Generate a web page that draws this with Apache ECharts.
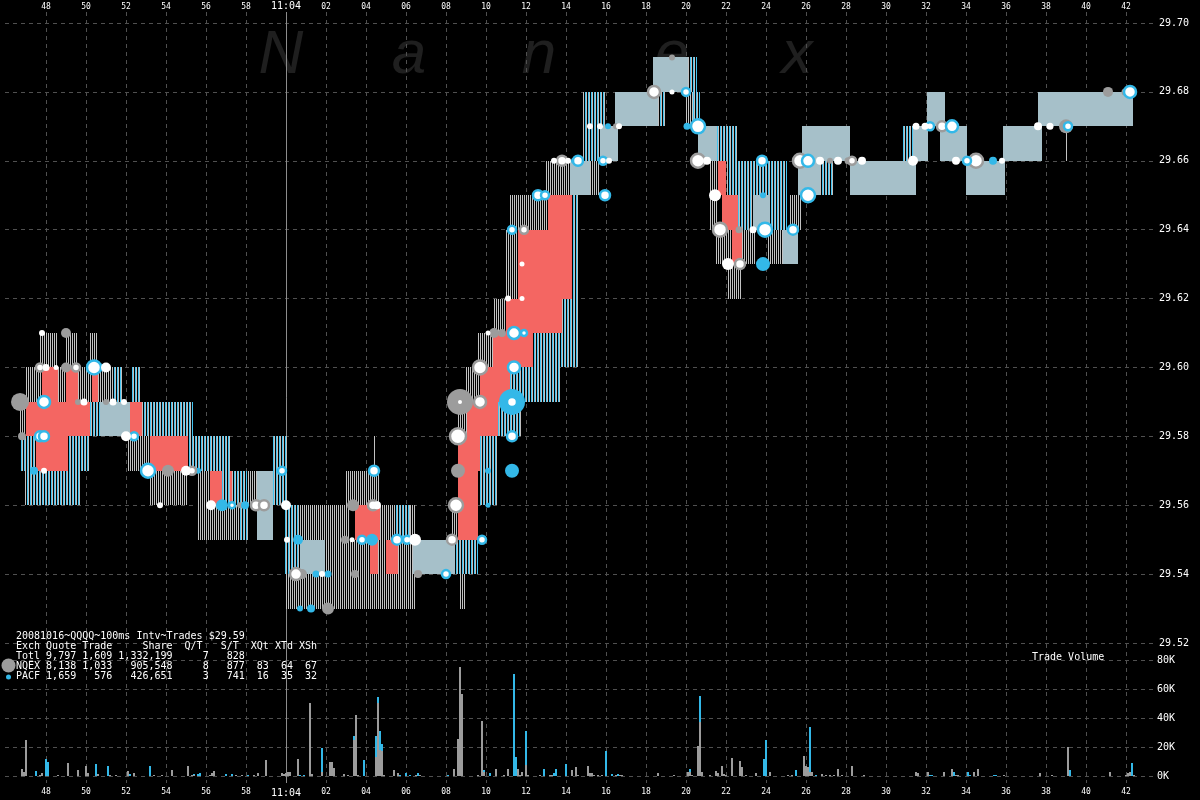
<!DOCTYPE html>
<html><head><meta charset="utf-8">
<script src="https://cdn.jsdelivr.net/npm/echarts@6/dist/echarts.min.js"></script>
<style>html,body{margin:0;padding:0;background:#000}#c{width:1200px;height:800px}</style>
</head><body><div id="c"></div>
<script>
// ---------- DATA ----------
// time in seconds after 11:03:00 ; quote bands: [tStart, tEnd, low, high]
const grayBands = [
  [46.75,47.05,29.57,29.59],[47.05,47.85,29.59,29.60],[47.75,48.6,29.60,29.61],[48.6,50.35,29.59,29.60],
  [49.05,49.6,29.60,29.61],[50.25,50.6,29.60,29.61],[50.65,51.35,29.59,29.60],[52.1,53.25,29.57,29.58],
  [53.25,55.1,29.56,29.57],[55.6,56.25,29.55,29.57],[56.25,57.75,29.55,29.56],[58.1,58.6,29.56,29.57],
  [60.0,60.75,29.53,29.56],[60.75,63.0,29.55,29.56],[60.75,62.25,29.53,29.55],[62.25,63.25,29.53,29.56],
  [63.0,64.75,29.56,29.57],[63.25,65.0,29.53,29.55],[64.4,64.55,29.57,29.58],[64.75,66.5,29.53,29.55],
  [64.75,65.5,29.55,29.56],[65.75,66.5,29.55,29.56],[68.35,68.65,29.55,29.56],[68.75,69.0,29.53,29.54],
  [68.65,69.1,29.58,29.59],[69.05,69.75,29.59,29.60],[69.65,70.4,29.60,29.61],[70.45,71.05,29.61,29.62],
  [71.0,71.65,29.62,29.64],[71.25,73.15,29.64,29.65],[73.0,75.75,29.65,29.66],[80.0,80.4,29.67,29.68],
  [81.25,81.65,29.64,29.66],[81.5,82.35,29.63,29.64],[82.15,82.85,29.62,29.63],[82.85,83.5,29.63,29.64],
  [84.15,84.9,29.63,29.64],[85.25,85.85,29.64,29.65],[99.05,99.15,29.66,29.67]
];
const cyanBands = [
  [46.75,50.25,29.57,29.58],[47.0,49.75,29.56,29.57],[50.25,50.75,29.58,29.59],[51.35,51.85,29.59,29.60],
  [52.35,52.75,29.59,29.60],[52.85,55.4,29.58,29.59],[55.15,57.25,29.57,29.58],[56.85,58.1,29.56,29.57],
  [57.75,58.15,29.55,29.56],[59.4,60.1,29.56,29.58],[60.0,60.75,29.54,29.56],[65.5,66.25,29.55,29.56],
  [68.5,69.65,29.54,29.55],[69.75,70.6,29.56,29.58],[70.65,71.85,29.58,29.59],[71.25,73.75,29.59,29.60],
  [72.4,74.35,29.60,29.62],[74.35,74.65,29.60,29.65],[74.9,76.0,29.66,29.68],[78.65,79.0,29.67,29.68],
  [80.15,80.6,29.68,29.69],[80.4,80.75,29.67,29.68],[81.6,82.6,29.66,29.67],[82.1,85.1,29.64,29.66],
  [86.75,87.4,29.65,29.66],[90.85,91.4,29.66,29.67]
];
const lightBands = [
  [50.75,52.25,29.58,29.59],[58.6,59.4,29.55,29.57],[60.75,62.0,29.54,29.55],[66.4,68.5,29.54,29.55],
  [74.25,75.25,29.65,29.66],[75.75,76.65,29.66,29.67],[76.5,78.65,29.67,29.68],[78.4,80.15,29.68,29.69],
  [80.65,81.6,29.66,29.67],[83.4,84.25,29.64,29.65],[84.9,85.65,29.63,29.64],[85.65,86.75,29.65,29.66],
  [85.85,88.25,29.66,29.67],[88.25,91.55,29.65,29.66],[91.4,92.15,29.66,29.67],[92.1,93.0,29.67,29.68],
  [92.75,94.1,29.66,29.67],[94.05,96.0,29.65,29.66],[95.9,97.85,29.66,29.67],[97.65,102.4,29.67,29.68]
];
const redBands = [
  [47.05,50.25,29.58,29.59],[47.85,48.65,29.59,29.60],[49.05,49.65,29.59,29.60],[50.35,50.65,29.59,29.60],
  [47.55,49.15,29.57,29.58],[52.25,52.85,29.58,29.59],[53.25,55.15,29.57,29.58],[56.25,56.85,29.56,29.57],
  [57.25,57.35,29.56,29.57],[63.5,64.75,29.55,29.56],[64.25,64.65,29.54,29.55],[65.05,65.65,29.54,29.55],
  [68.65,69.65,29.55,29.57],[68.65,69.75,29.57,29.58],[69.1,70.65,29.58,29.59],[69.75,71.25,29.59,29.60],
  [70.4,72.4,29.60,29.61],[71.05,73.85,29.61,29.62],[71.65,74.35,29.62,29.64],[73.15,74.35,29.64,29.65],
  [81.65,82.05,29.65,29.66],[81.85,82.65,29.64,29.65],[82.35,82.85,29.63,29.64]
];
// trades: [t, price, markerSize]
const tradesGray = [
  [46.75,29.59,18],[49.05,29.61,10],[49.05,29.60,10],[49.65,29.59,6],[51.05,29.59,6],[46.85,29.58,8],
  [54.15,29.57,12],[57.75,29.56,6],[60.85,29.54,10],[62.15,29.53,12],[63.4,29.56,12],[63.0,29.55,8],
  [63.5,29.54,8],[66.65,29.54,8],[68.65,29.57,14],[68.75,29.59,26],[70.45,29.61,10],[70.85,29.61,8],
  [79.35,29.69,6],[82.7,29.64,7],[87.25,29.66,6],[88.15,29.66,7],[99.05,29.67,14],[101.15,29.68,10],
  [102.0,29.68,7],[76.55,29.67,6]
];
const tradesCyan = [
  [50.75,29.60,8],[47.45,29.57,8],[55.65,29.57,6],[56.85,29.56,12],[58.0,29.56,8],[60.65,29.55,10],
  [61.55,29.54,7],[60.75,29.53,6],[61.3,29.53,8],[64.35,29.55,12],[70.15,29.57,6],[71.35,29.57,14],
  [70.15,29.56,5],[71.35,29.59,26],[74.45,29.66,6],[76.15,29.67,6],[80.1,29.67,7],[83.9,29.65,6],
  [83.9,29.63,14],[95.4,29.66,8],[62.15,29.54,7]
];
const tradesWhiteGray = [
  [47.75,29.60,8],[49.55,29.60,8],[58.55,29.56,10],[58.95,29.56,10],[60.55,29.54,12],[64.4,29.56,10],
  [68.35,29.55,10],[68.55,29.56,14],[68.65,29.58,16],[69.75,29.59,12],[69.75,29.60,14],[71.95,29.64,8],
  [73.85,29.66,10],[78.45,29.68,12],[80.65,29.66,14],[81.75,29.64,14],[82.75,29.63,10],[85.75,29.66,14],
  [88.35,29.66,8],[92.85,29.67,10],[94.55,29.66,14],[55.35,29.57,8]
];
const tradesWhiteCyan = [
  [50.45,29.60,14],[47.95,29.59,12],[47.75,29.58,10],[47.95,29.58,10],[52.45,29.58,8],[53.15,29.57,14],
  [59.85,29.57,8],[57.35,29.56,6],[63.85,29.55,8],[65.6,29.55,10],[66.1,29.55,8],[68.05,29.54,8],
  [69.85,29.55,8],[71.35,29.58,10],[71.45,29.60,12],[71.45,29.61,12],[71.95,29.61,6],[71.35,29.64,8],
  [72.65,29.65,10],[73.0,29.65,8],[74.65,29.66,10],[76.0,29.65,10],[75.9,29.66,8],[80.05,29.68,8],
  [80.65,29.67,14],[83.85,29.66,10],[84.0,29.64,14],[85.4,29.64,10],[86.15,29.66,12],[86.15,29.65,14],
  [94.1,29.66,8],[92.25,29.67,8],[93.35,29.67,12],[99.15,29.67,8],[102.25,29.68,12],[64.45,29.57,10],
  [71.35,29.59,10]
];
const tradesWhite = [
  [47.85,29.61,6],[48.05,29.60,7],[48.55,29.60,5],[51.05,29.60,10],[49.95,29.59,7],[51.4,29.59,7],
  [51.95,29.59,6],[52.05,29.58,10],[47.95,29.57,6],[55.05,29.57,10],[53.75,29.56,6],[56.3,29.56,10],
  [60.05,29.56,10],[60.1,29.55,6],[61.85,29.54,6],[64.6,29.56,8],[63.35,29.55,5],[66.5,29.55,12],
  [70.15,29.61,5],[71.15,29.62,6],[71.85,29.62,5],[71.85,29.63,5],[73.45,29.66,6],[74.15,29.66,6],
  [75.25,29.67,6],[75.75,29.67,6],[76.7,29.67,6],[76.2,29.66,6],[79.35,29.68,5],[81.1,29.66,8],
  [81.5,29.65,12],[82.15,29.63,12],[83.4,29.64,7],[86.75,29.66,8],[87.65,29.66,8],[88.85,29.66,8],
  [91.4,29.66,10],[93.55,29.66,8],[95.85,29.66,6],[91.55,29.67,7],[92.0,29.67,7],[97.65,29.67,8],
  [98.25,29.67,7],[68.75,29.59,4]
];
// trade volume per 100ms bin: [t, shares]
const volGray = [
  [46.8,4700],[46.9,3000],[47.0,25000],[47.7,700],[47.8,2000],[48.6,500],[49.1,8800],[49.6,4200],
  [50.0,6700],[50.1,2000],[50.6,1500],[51.2,700],[51.5,700],[52.1,3400],[52.4,2000],[53.4,700],
  [53.8,700],[54.3,4200],[55.1,6700],[55.3,700],[55.4,700],[56.2,700],[56.3,2000],[56.4,3400],
  [57.5,700],[57.8,700],[58.4,700],[58.6,2000],[59.0,10800],[59.8,2000],[59.9,1400],[60.0,2000],
  [60.1,2700],[60.2,2700],[60.6,12000],[61.2,50600],[61.3,1500],[61.8,2700],[62.2,9400],[62.3,9400],
  [62.4,5400],[62.9,1400],[63.1,700],[63.4,24500],[63.5,41800],[63.6,700],[64.5,12800],[64.6,50600],
  [64.7,18000],[64.8,17000],[64.9,700],[65.4,4000],[65.6,2000],
  [66.5,1000],[66.7,1000],[68.4,5000],[68.6,25600],[68.7,75500],[68.8,56600],[69.6,500],[69.8,37800],
  [69.9,3000],[70.5,4500],[70.9,1000],[71.1,4500],[71.6,5000],[71.7,1000],[71.8,3000],[72.0,7600],
  [72.1,500],[72.7,1000],[73.2,500],[73.3,500],[74.3,4000],[74.5,6500],[74.6,500],[75.1,7000],
  [75.2,2000],[75.3,2000],[75.4,700],[75.6,500],[75.8,500],[76.5,700],[76.7,700],[76.8,700],
  [78.6,2000],[79.4,500],[80.1,3000],[80.2,2500],[80.3,500],[80.6,20900],[80.7,37300],[80.8,3000],
  [81.2,1000],[81.5,3400],[81.6,2000],[81.8,7000],[81.9,1500],[82.0,500],[82.3,12600],[82.7,10500],
  [82.8,6000],[83.0,500],[83.5,2200],[84.2,3000],[85.1,500],[85.3,500],
  [85.9,13500],[86.0,7000],[86.1,6000],[86.2,3000],[86.3,3000],[86.8,1500],[87.0,1000],[87.2,500],
  [87.4,500],[87.6,5000],[87.8,1000],[88.3,7000],[88.9,1000],[91.5,2500],[91.6,2000],[92.1,3000],
  [92.9,3000],[93.3,5000],[93.5,700],[93.6,700],[94.4,2500],[94.6,5000],[95.9,500],[97.7,2000],
  [98.3,500],[99.1,20200],[101.2,2500],[102.0,1000],[102.1,2000],[102.2,2700],[102.4,500]
];
const volCyan = [
  [47.5,3400],[48.0,12000],[48.1,10000],[50.5,8000],[51.1,6700],[52.2,1400],[53.2,6700],[55.4,600],
  [55.6,1500],[55.7,2000],[57.0,1400],[57.3,1400],[58.1,700],[60.7,700],[60.9,700],[61.8,16300],
  [63.4,3000],[63.9,10800],[64.5,14800],[64.6,4000],[64.7,13000],[64.8,5000],[65.7,1000],
  [66.0,2200],[66.2,500],[66.6,2200],[68.1,1000],[69.9,1000],[70.2,2000],[71.4,70100],[71.5,13000],
  [72.0,23400],[72.9,5000],[73.4,2200],[73.5,5000],[74.0,8000],[76.0,17500],[76.3,1500],[76.6,1500],
  [80.2,2200],[80.7,18000],[83.9,11500],[84.0,25000],[85.5,4000],
  [86.2,30700],[86.5,500],[92.2,1000],[92.3,1000],[93.4,3000],[94.1,2500],[94.2,1000],[95.4,500],
  [95.5,500],[99.2,4000],[102.3,8800]
];
const minuteMarks = [60];
const headerLines = [
  '20081016~QQQQ~100ms Intv~Trades $29.59',
  'Exch Quote Trade     Share  Q/T   S/T  XQt XTd XSh',
  'Totl 9,797 1,609 1,332,199     7   828',
  'NQEX 8,138 1,033   905,548     8   877  83  64  67',
  'PACF 1,659   576   426,651     3   741  16  35  32'
];
const watermark = ['N','a','n','e','x'];

// ---------- RENDER ----------
const FONT = '"DejaVu Sans Mono", monospace';
const GRAY = '#9c9c9c', CYAN = '#33b8e8', RED = '#f46662';
function stripe(cols){
  const c = document.createElement('canvas'); c.width = cols.length; c.height = 1;
  const g = c.getContext('2d'); cols.forEach((col,i)=>{g.fillStyle=col; g.fillRect(i,0,1,1);});
  return {image:c, repeat:'repeat'};
}
const fillGray = stripe(['#c2c2c2','#000']);
const fillCyan = stripe(['#44c4f0','#c0c0c0','#000']);
const fillLight = '#a6c0c9';

function bandSeries(data, fill){
  return {type:'custom', xAxisIndex:0, yAxisIndex:0, data, silent:true,
    renderItem(params, api){
      const a = api.coord([api.value(0), api.value(3)]);
      const b = api.coord([api.value(1), api.value(2)]);
      const x0 = Math.round(a[0]), x1 = Math.round(b[0]);
      const y0 = Math.round(a[1]), y1 = Math.round(b[1]);
      return {type:'rect', shape:{x:x0, y:y0, width:Math.max(1,x1-x0), height:y1-y0}, style:{fill}};
    }};
}
const grayByT = {};
volGray.forEach(d=>{grayByT[d[0].toFixed(1)] = d[1];});
const cyanStacked = volCyan.map(d=>[d[0], d[1], grayByT[d[0].toFixed(1)] || 0]);
function volSeries(data, color){
  return {type:'custom', xAxisIndex:1, yAxisIndex:1, data, silent:true,
    renderItem(params, api){
      const t = api.value(0), v = api.value(1), base = data[params.dataIndex][2] || 0;
      const top = api.coord([t, base+v]), bot = api.coord([t, base]);
      const x = Math.round(top[0]);
      const y1 = Math.round(bot[1]);
      let y0 = Math.round(top[1]); if (y1 - y0 < 1) y0 = y1 - 1;
      return {type:'rect', shape:{x, y:y0, width:2, height:y1-y0}, style:{fill:color}};
    }};
}
function tradeSeries(data, color, border){
  return {type:'scatter', xAxisIndex:0, yAxisIndex:0, data, symbol:'circle', silent:true,
    symbolSize: v => v[2],
    itemStyle: border ? {color:'#fff', borderColor:border, borderWidth:2.5, opacity:1} : {color, opacity:1}};
}
function fmtTime(v){
  v = Math.round(v);
  if (v < 47 || v > 102.5) return '';
  if (v === 60) return '{big|11:04}';
  const s = v < 60 ? v : v - 60;
  return String(s).padStart(2,'0');
}
const splitDash = {show:true, lineStyle:{color:'#505050', type:[4,4], width:1}};
const xLabel = (margin) => ({color:'#fff', fontFamily:FONT, fontSize:8, margin, formatter:fmtTime,
  showMinLabel:false, showMaxLabel:false, rich:{big:{fontSize:10, color:'#fff', fontFamily:FONT}}});

const graphics = [];
const wmX = [281, 409, 539, 672, 797];
watermark.forEach((ch,i)=>graphics.push({type:'text', z:0, style:{text:ch, x:wmX[i], y:56,
  font:'italic 62px "Liberation Sans", sans-serif', fill:'#1f1f1f', textAlign:'center', textVerticalAlign:'middle'}}));
headerLines.forEach((s,i)=>graphics.push({type:'text', z:10, style:{text:s, x:16, y:636.5+i*10,
  font:'10px ' + FONT, fill:'#fff', textAlign:'left', textVerticalAlign:'middle'}}));
graphics.push({type:'circle', z:10, shape:{cx:8.5, cy:665.5, r:7}, style:{fill:GRAY}});
graphics.push({type:'circle', z:10, shape:{cx:8.5, cy:677, r:2.5}, style:{fill:CYAN}});
graphics.push({type:'text', z:10, style:{text:'Trade Volume', x:1032, y:657.5, font:'10px ' + FONT,
  fill:'#fff', textAlign:'left', textVerticalAlign:'middle'}});

const chart = echarts.init(document.getElementById('c'));
chart.setOption({
  backgroundColor:'#000',
  animation:false,
  graphic:graphics,
  grid:[
    {left:5, right:45, top:23, height:620},
    {left:5, right:45, top:660, height:116},
    {left:6, right:45, top:12, bottom:17}
  ],
  xAxis:[
    {gridIndex:0, type:'value', min:46, max:103.5, show:false},
    {gridIndex:1, type:'value', min:46, max:103.5, show:false},
    {gridIndex:2, type:'value', position:'top', min:46, max:103.45, interval:2,
      axisLine:{show:false}, axisTick:{show:false},
      splitLine:Object.assign({}, splitDash, {showMinLine:false, showMaxLine:false}), axisLabel:xLabel(1)},
    {gridIndex:2, type:'value', position:'bottom', min:46, max:103.45, interval:2,
      axisLine:{show:false}, axisTick:{show:false}, splitLine:{show:false}, axisLabel:xLabel(5)}
  ],
  yAxis:[
    {gridIndex:0, type:'value', position:'right', min:29.52, max:29.70, interval:0.02,
      axisLine:{show:false}, axisTick:{show:false}, splitLine:splitDash,
      axisLabel:{color:'#fff', fontFamily:FONT, fontSize:10, margin:4, formatter:v=>v.toFixed(2)}},
    {gridIndex:1, type:'value', position:'right', min:0, max:80000, interval:20000,
      axisLine:{show:false}, axisTick:{show:false}, splitLine:splitDash,
      axisLabel:{color:'#fff', fontFamily:FONT, fontSize:10, margin:2, formatter:v=>Math.round(v/1000)+'K'}},
    {gridIndex:2, type:'value', min:0, max:1, show:false}
  ],
  series:[
    {type:'custom', xAxisIndex:2, yAxisIndex:2, data:minuteMarks.map(t=>[t]), silent:true,
      renderItem(params, api){
        const x = Math.round(api.coord([api.value(0), 0])[0]) + 0.5;
        const cs = params.coordSys;
        return {type:'line', shape:{x1:x, y1:cs.y, x2:x, y2:cs.y+cs.height}, style:{stroke:'#8c8c8c', lineWidth:1}};
      }},
    bandSeries(grayBands, fillGray),
    bandSeries(cyanBands, fillCyan),
    bandSeries(lightBands, fillLight),
    bandSeries(redBands, RED),
    tradeSeries(tradesGray, GRAY),
    tradeSeries(tradesCyan, CYAN),
    tradeSeries(tradesWhiteGray, null, GRAY),
    tradeSeries(tradesWhiteCyan, null, CYAN),
    tradeSeries(tradesWhite, '#ffffff'),
    volSeries(volGray.map(d=>[d[0], d[1], 0]), GRAY),
    volSeries(cyanStacked, CYAN)
  ]
});
</script>
</body></html>
